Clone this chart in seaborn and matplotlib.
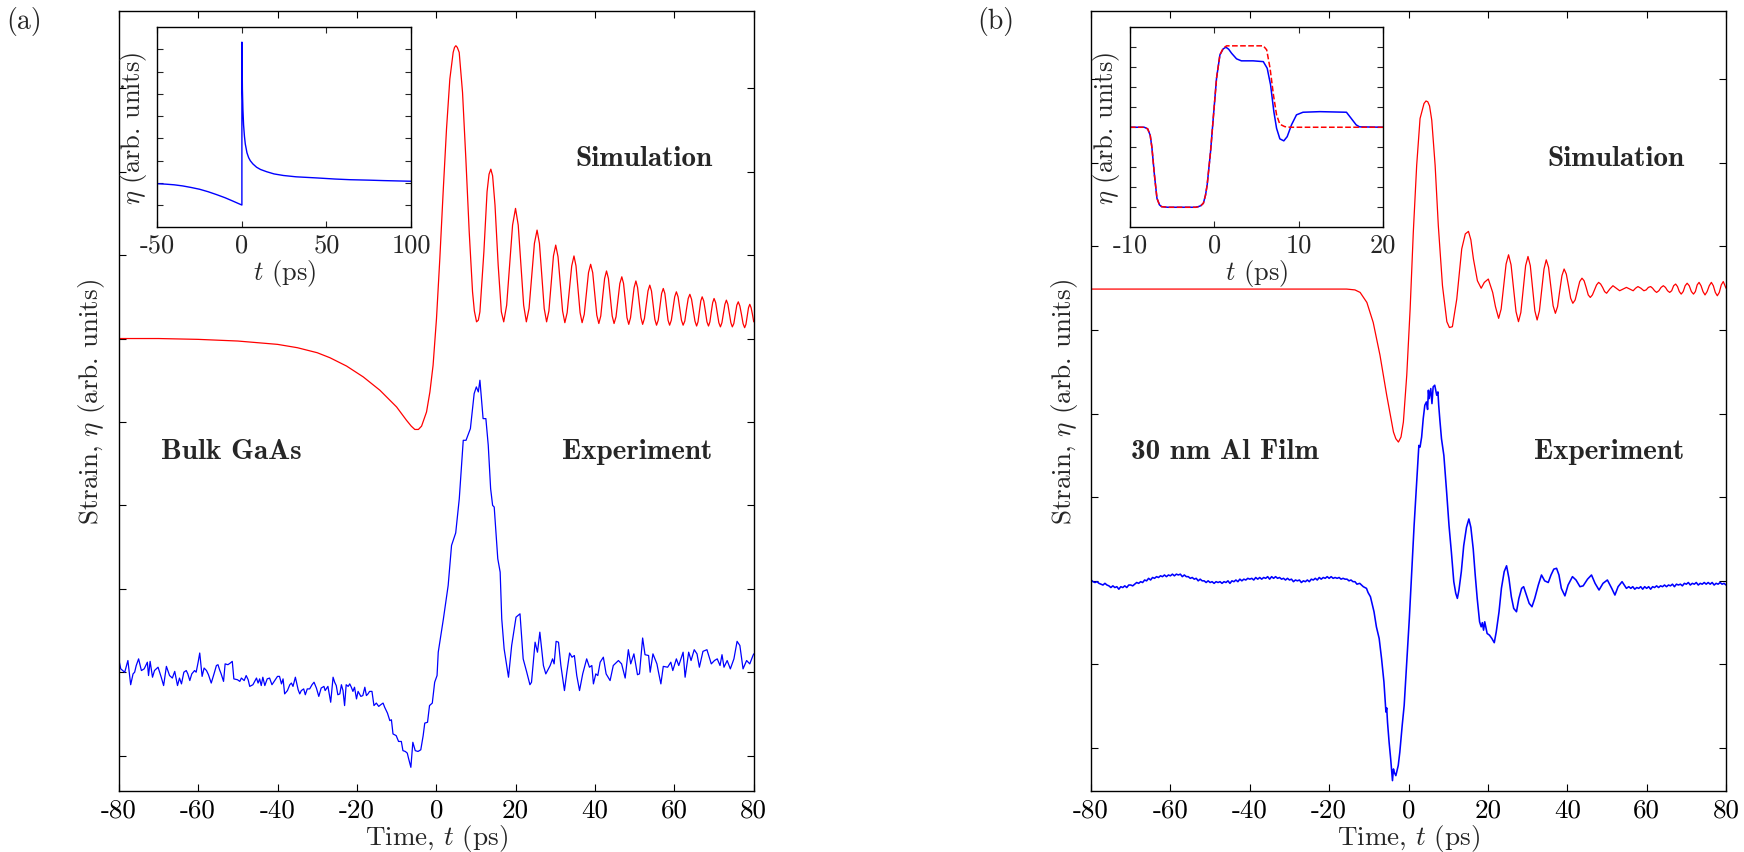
import numpy as np
import pandas as pd
import matplotlib
matplotlib.use("Agg")
import matplotlib.pyplot as plt
import seaborn as sns

# ---------------- data ----------------
x_ticks_main = [-80, -60, -40, -20, 0, 20, 40, 60, 80]
x_tick_labels_main = ["-80", "-60", "-40", "-20", "0", "20", "40", "60", "80"]
inset_a_ticks = [-50, 0, 50, 100]
inset_a_labels = ["-50", "0", "50", "100"]
inset_b_ticks = [-10, 0, 10, 20]
inset_b_labels = ["-10", "0", "10", "20"]

# Panel (a): simulation (red)
sim_a = [(-80, 5.00), (-70, 5.00), (-60, 4.99), (-50, 4.97), (-45, 4.95), (-40, 4.93), (-35, 4.89),
         (-30, 4.83), (-26.8, 4.77), (-22.6, 4.67), (-18.4, 4.54), (-14.2, 4.38), (-10.0, 4.18),
         (-7.5, 4.02), (-6.3, 3.95), (-5.4, 3.91), (-4.5, 3.91), (-3.7, 3.95), (-2.45, 4.12),
         (-1.6, 4.36), (-0.8, 4.68), (0.06, 5.24), (0.9, 5.96), (1.74, 6.76), (2.58, 7.51),
         (3.42, 8.11), (4.26, 8.43), (4.6, 8.49), (4.94, 8.51), (5.3, 8.49), (5.78, 8.43),
         (6.62, 7.95), (7.46, 7.15), (8.3, 6.28), (9.14, 5.56), (9.6, 5.33), (10.15, 5.20),
         (10.6, 5.22), (11.0, 5.32), (12.0, 6.04), (12.8, 6.76), (13.3, 6.97), (13.75, 7.03),
         (14.2, 6.95), (14.8, 6.60), (15.6, 5.88), (16.4, 5.32), (17.0, 5.20),
         (17.74, 5.40), (18.49, 5.88), (19.23, 6.36), (19.97, 6.56),
         (20.65, 6.36), (21.34, 5.88), (22.02, 5.40), (22.7, 5.20),
         (23.38, 5.36), (24.05, 5.75), (24.73, 6.14), (25.4, 6.30),
         (26.0, 6.14), (26.6, 5.75), (27.2, 5.36), (27.8, 5.20),
         (28.38, 5.33), (28.95, 5.66), (29.53, 5.99), (30.1, 6.12),
         (30.68, 5.98), (31.25, 5.66), (31.83, 5.33), (32.4, 5.19),
         (32.98, 5.31), (33.55, 5.59), (34.13, 5.87), (34.7, 5.99),
         (35.21, 5.87), (35.73, 5.59), (36.24, 5.31), (36.75, 5.19),
         (37.29, 5.29), (37.83, 5.54), (38.36, 5.79), (38.9, 5.89),
         (39.42, 5.79), (39.93, 5.54), (40.45, 5.28), (40.96, 5.18),
         (41.45, 5.27), (41.93, 5.50), (42.42, 5.72), (42.9, 5.81),
         (43.38, 5.72), (43.85, 5.50), (44.33, 5.27), (44.8, 5.18),
         (45.29, 5.26), (45.78, 5.46), (46.26, 5.66), (46.75, 5.74),
         (47.19, 5.66), (47.63, 5.46), (48.06, 5.25), (48.5, 5.17),
         (48.95, 5.25), (49.4, 5.43), (49.85, 5.61), (50.3, 5.69),
         (50.73, 5.61), (51.15, 5.43), (51.58, 5.25), (52.0, 5.17),
         (52.45, 5.24), (52.9, 5.41), (53.35, 5.57), (53.8, 5.64),
         (54.23, 5.57), (54.65, 5.40), (55.08, 5.23), (55.5, 5.16),
         (55.93, 5.22), (56.35, 5.38), (56.78, 5.54), (57.2, 5.60),
         (57.6, 5.54), (58.0, 5.38), (58.4, 5.22), (58.8, 5.16),
         (59.23, 5.22), (59.65, 5.36), (60.08, 5.50), (60.5, 5.56),
         (60.93, 5.50), (61.35, 5.36), (61.78, 5.22), (62.2, 5.16),
         (62.63, 5.21), (63.05, 5.35), (63.48, 5.48), (63.9, 5.53),
         (64.33, 5.47), (64.75, 5.34), (65.18, 5.21), (65.6, 5.15),
         (65.95, 5.20), (66.3, 5.33), (66.65, 5.45), (67.0, 5.50),
         (67.4, 5.45), (67.8, 5.33), (68.2, 5.20), (68.6, 5.15),
         (68.95, 5.20), (69.3, 5.32), (69.65, 5.43), (70.0, 5.48),
         (70.4, 5.43), (70.8, 5.31), (71.2, 5.19), (71.6, 5.14),
         (71.98, 5.19), (72.35, 5.30), (72.73, 5.41), (73.1, 5.46),
         (73.48, 5.41), (73.85, 5.30), (74.23, 5.19), (74.6, 5.14),
         (74.98, 5.18), (75.35, 5.29), (75.73, 5.40), (76.1, 5.44),
         (76.5, 5.39), (76.9, 5.29), (77.3, 5.18), (77.7, 5.13),
         (78.03, 5.17), (78.35, 5.27), (78.68, 5.37), (79.0, 5.41),
         (79.33, 5.37), (79.67, 5.29), (80.0, 5.20)]

# Panel (a): experiment (blue)
exp_a = [(-80.2, 1.20), (-79.5, 1.04), (-78.5, 1.00), (-77.7, 1.14), (-77.0, 0.85), (-76.4, 0.98),
         (-76.0, 1.00), (-75.6, 1.08), (-75.0, 1.16), (-74.3, 1.02), (-73.6, 1.04), (-72.8, 1.12),
         (-72.5, 0.96), (-72.1, 1.13), (-71.5, 0.94), (-71.0, 1.02), (-70.1, 1.06), (-69.3, 0.94),
         (-68.7, 0.84), (-68.0, 1.07), (-67.2, 0.96), (-66.5, 0.93), (-65.9, 1.01), (-65.2, 0.84),
         (-64.7, 0.93), (-64.2, 0.86), (-63.6, 1.00), (-63.0, 1.02), (-62.6, 0.98), (-62.1, 0.90),
         (-61.6, 0.98), (-60.9, 1.02), (-60.5, 1.00), (-60.0, 1.12), (-59.6, 1.23), (-59.0, 0.95),
         (-58.5, 1.05), (-57.9, 1.02), (-57.4, 0.97), (-56.7, 0.87), (-56.0, 0.98), (-55.4, 1.08),
         (-55.0, 1.09), (-54.6, 1.03), (-54.2, 0.98), (-53.6, 0.89), (-53.2, 1.10), (-52.5, 1.09),
         (-51.9, 1.11), (-51.4, 1.13), (-51.0, 0.92), (-50.1, 0.91), (-49.5, 0.89), (-49.1, 0.93),
         (-48.4, 0.90), (-47.9, 0.96), (-47.4, 0.91), (-47.0, 0.83), (-46.2, 0.85), (-45.3, 0.93),
         (-44.9, 0.87), (-44.5, 0.92), (-44.1, 0.84), (-43.7, 0.94), (-43.2, 0.84), (-42.6, 0.92),
         (-42.0, 0.93), (-41.4, 0.85), (-40.7, 0.90), (-40.0, 0.95), (-39.5, 0.95), (-39.0, 0.86),
         (-38.6, 0.92), (-38.2, 0.74), (-37.5, 0.78), (-36.9, 0.85), (-36.5, 0.87), (-36.1, 0.83),
         (-35.5, 0.94), (-34.8, 0.79), (-34.4, 0.74), (-34.0, 0.78), (-33.4, 0.80), (-33.0, 0.73),
         (-32.5, 0.80), (-31.9, 0.80), (-31.3, 0.85), (-30.8, 0.88), (-30.2, 0.81), (-29.6, 0.71),
         (-29.0, 0.81), (-28.3, 0.83), (-28.0, 0.78), (-27.3, 0.83), (-26.6, 0.64), (-26.0, 0.94),
         (-25.6, 0.88), (-25.2, 0.84), (-24.8, 0.73), (-24.3, 0.74), (-23.9, 0.85), (-23.5, 0.78),
         (-23.1, 0.60), (-22.7, 0.85), (-22.2, 0.83), (-21.8, 0.86), (-21.4, 0.82), (-21.0, 0.77),
         (-20.6, 0.82), (-20.1, 0.68), (-19.7, 0.77), (-19.0, 0.71), (-18.5, 0.72), (-18.0, 0.82),
         (-17.6, 0.72), (-17.2, 0.74), (-16.8, 0.77), (-16.2, 0.77), (-15.7, 0.60), (-15.1, 0.63),
         (-14.5, 0.59), (-14.0, 0.61), (-13.4, 0.63), (-13.0, 0.58), (-12.3, 0.51), (-11.7, 0.42),
         (-11.3, 0.43), (-10.9, 0.26), (-10.1, 0.24), (-9.5, 0.17), (-8.8, 0.17), (-8.4, 0.06),
         (-7.8, 0.05), (-7.3, 0.03), (-7.0, -0.03), (-6.4, -0.14), (-5.9, 0.16), (-5.3, 0.06),
         (-4.6, 0.05), (-3.9, 0.07), (-3.3, 0.24), (-2.9, 0.39), (-2.2, 0.40), (-1.7, 0.60),
         (-1.0, 0.63), (-0.4, 0.88), (0.2, 0.96), (0.5, 1.24), (1.8, 1.64), (3.0, 2.04),
         (3.85, 2.52), (4.9, 2.67), (5.8, 3.08), (6.8, 3.78), (7.5, 3.78), (8.6, 3.92),
         (9.55, 4.34), (10.1, 4.42), (10.6, 4.36), (11.0, 4.50), (11.8, 4.04), (12.5, 4.04),
         (13.1, 3.72), (13.7, 3.20), (14.2, 3.00), (14.6, 2.98), (15.5, 2.36), (16.1, 2.20),
         (16.5, 1.64), (17.1, 1.28), (18.2, 0.94), (19.0, 1.32), (20.1, 1.66), (21.1, 1.70),
         (21.9, 1.16), (22.8, 1.00), (23.6, 0.85), (24.0, 0.88), (24.9, 1.36), (25.5, 1.24),
         (26.1, 1.48), (27.0, 1.08), (27.6, 0.98), (28.7, 1.08), (29.3, 1.16), (29.7, 1.10),
         (30.2, 1.37), (30.8, 1.36), (31.4, 1.08), (32.3, 0.78), (32.9, 1.00), (33.6, 1.23),
         (34.2, 1.18), (34.8, 1.20), (35.4, 0.96), (36.1, 0.78), (36.9, 0.98), (37.9, 1.16),
         (38.6, 1.06), (39.2, 1.08), (39.6, 0.86), (40.2, 0.98), (40.7, 0.96), (41.3, 1.12),
         (42.1, 1.18), (42.8, 0.98), (43.8, 0.90), (44.6, 1.08), (45.9, 1.14), (46.7, 1.10),
         (47.6, 0.93), (48.4, 1.27), (49.0, 1.10), (49.8, 1.22), (50.7, 0.97), (51.2, 0.98),
         (52.0, 1.41), (52.6, 1.21), (53.5, 1.20), (53.9, 1.00), (54.6, 1.22), (55.6, 1.10),
         (56.0, 1.00), (56.6, 0.86), (57.2, 1.07), (58.3, 1.06), (59.1, 1.12), (59.6, 1.02),
         (60.5, 1.16), (61.1, 1.08), (62.2, 1.24), (62.7, 0.94), (63.6, 1.24), (64.2, 1.14),
         (65.0, 1.27), (65.7, 1.22), (66.3, 1.06), (67.2, 1.25), (68.2, 1.27), (69.3, 1.10),
         (70.1, 1.14), (70.8, 1.16), (71.5, 1.08), (72.0, 1.21), (72.5, 1.06), (73.3, 1.14),
         (74.1, 1.04), (75.0, 1.16), (75.8, 1.37), (76.5, 1.32), (77.3, 1.04), (78.2, 1.14),
         (79.0, 1.10), (79.8, 1.20), (80.0, 1.22)]

# Panel (b): simulation (red)
sim_b = [(-80, 5.49), (-40, 5.49), (-20, 5.49), (-15.6, 5.49), (-13.5, 5.48), (-12.2, 5.45),
         (-10.5, 5.33), (-8.9, 5.09), (-7.2, 4.70), (-5.5, 4.22), (-3.8, 3.78), (-3.2, 3.70),
         (-2.55, 3.66), (-1.9, 3.72), (-1.3, 3.90), (-0.45, 4.46), (0.4, 5.25), (1.2, 6.17),
         (2.05, 6.97), (2.9, 7.53), (3.9, 7.71), (4.4, 7.74), (4.85, 7.73), (5.3, 7.68),
         (5.85, 7.51), (6.7, 6.97), (7.5, 6.25), (8.55, 5.53), (9.65, 5.10), (10.3, 5.03),
         (11.05, 5.04), (12.15, 5.37), (13.4, 5.97), (14.3, 6.15), (15.1, 6.18), (15.7, 6.08),
         (16.35, 5.85), (17.35, 5.59), (18.3, 5.50), (19.1, 5.57), (20.1, 5.61), (21.2, 5.45),
         (21.9, 5.28), (22.7, 5.14),
         (23.33, 5.25), (23.95, 5.52), (24.58, 5.79), (25.2, 5.90),
         (25.83, 5.78), (26.45, 5.50), (27.08, 5.22), (27.7, 5.10),
         (28.3, 5.21), (28.9, 5.49), (29.5, 5.77), (30.1, 5.88),
         (30.68, 5.77), (31.25, 5.50), (31.83, 5.23), (32.4, 5.12),
         (32.98, 5.23), (33.55, 5.48), (34.13, 5.73), (34.7, 5.84),
         (35.28, 5.75), (35.85, 5.52), (36.43, 5.29), (37.0, 5.20),
         (37.55, 5.28), (38.1, 5.47), (38.65, 5.65), (39.2, 5.73),
         (39.75, 5.67), (40.3, 5.53), (40.85, 5.38), (41.4, 5.32),
         (41.98, 5.36), (42.55, 5.47), (43.13, 5.58), (43.7, 5.62),
         (44.23, 5.59), (44.75, 5.51), (45.28, 5.42), (45.8, 5.39),
         (46.33, 5.42), (46.85, 5.48), (47.38, 5.54), (47.9, 5.57),
         (48.4, 5.55), (48.9, 5.51), (49.4, 5.46), (49.9, 5.44),
         (50.7, 5.49), (51.5, 5.53), (52.35, 5.50), (53.2, 5.47), (54.05, 5.49), (54.9, 5.51),
         (55.75, 5.49), (56.6, 5.47), (57.2, 5.50), (57.8, 5.52), (58.55, 5.50),
         (59.3, 5.47), (59.87, 5.48), (60.43, 5.51), (61.0, 5.52), (61.5, 5.50), (62.0, 5.47),
         (62.5, 5.45), (63.07, 5.47), (63.63, 5.51), (64.2, 5.53), (64.73, 5.51), (65.27, 5.47),
         (65.8, 5.45), (66.3, 5.47), (66.8, 5.53), (67.3, 5.55), (67.77, 5.52), (68.23, 5.46),
         (68.7, 5.43), (69.2, 5.46), (69.7, 5.53), (70.2, 5.56), (70.73, 5.53), (71.27, 5.46),
         (71.8, 5.43), (72.27, 5.46), (72.73, 5.54), (73.2, 5.57), (73.7, 5.53), (74.2, 5.46),
         (74.7, 5.42), (75.23, 5.46), (75.77, 5.53), (76.3, 5.57), (76.8, 5.53), (77.3, 5.45),
         (77.8, 5.41), (78.3, 5.45), (78.8, 5.54), (79.3, 5.58), (80.0, 5.50)]

# Panel (b): experiment (blue)
exp_b = [(-80, 2.01), (-79.5, 1.99), (-79, 1.98), (-78.5, 1.99), (-78, 1.97), (-77.5, 1.96),
         (-77, 1.95), (-76.5, 1.97), (-76, 1.95), (-75.5, 1.94), (-75, 1.92), (-74.5, 1.94),
         (-74, 1.92), (-73.5, 1.93), (-73, 1.90), (-72.5, 1.93), (-72, 1.92), (-71.5, 1.94),
         (-71, 1.92), (-70.5, 1.95), (-70, 1.95), (-69.5, 1.94), (-69, 1.96), (-68.5, 1.98),
         (-68, 1.97), (-67.5, 1.99), (-67, 1.98), (-66.5, 2.01), (-66, 2.00), (-65.5, 2.03),
         (-65, 2.01), (-64.5, 2.04), (-64, 2.03), (-63.5, 2.05), (-63, 2.04), (-62.5, 2.06),
         (-62, 2.05), (-61.5, 2.07), (-61, 2.05), (-60.5, 2.07), (-60, 2.06), (-59.5, 2.08),
         (-59, 2.06), (-58.5, 2.08), (-58, 2.07), (-57.5, 2.08), (-57, 2.05), (-56.5, 2.07),
         (-56, 2.05), (-55.5, 2.05), (-55, 2.03), (-54.5, 2.04), (-54, 2.02), (-53.5, 2.03),
         (-53, 2.00), (-52.5, 2.02), (-52, 2.00), (-51.5, 2.00), (-51, 1.98), (-50.5, 2.00),
         (-50, 1.98), (-49.5, 1.99), (-49, 1.97), (-48.5, 1.99), (-48, 1.98), (-47.5, 1.99),
         (-47, 1.97), (-46.5, 1.99), (-46, 1.98), (-45.5, 2.00), (-45, 1.97), (-44.5, 2.00),
         (-44, 1.99), (-43.5, 2.01), (-43, 1.99), (-42.5, 2.02), (-42, 2.00), (-41.5, 2.02),
         (-41, 2.01), (-40.5, 2.03), (-40, 2.02), (-39.5, 2.03), (-39, 2.01), (-38.5, 2.04),
         (-38, 2.02), (-37.5, 2.04), (-37, 2.02), (-36.5, 2.04), (-36, 2.03), (-35.5, 2.05),
         (-35, 2.02), (-34.5, 2.05), (-34, 2.03), (-33.5, 2.05), (-33, 2.03), (-32.5, 2.04),
         (-32, 2.02), (-31.5, 2.03), (-31, 2.01), (-30.5, 2.03), (-30, 2.01), (-29.5, 2.02),
         (-29, 1.99), (-28.5, 2.01), (-28, 2.00), (-27.5, 2.01), (-27, 1.98), (-26.5, 2.00),
         (-26, 1.99), (-25.5, 2.01), (-25, 1.99), (-24.5, 2.02), (-24, 2.01), (-23.5, 2.03),
         (-23, 2.01), (-22.5, 2.04), (-22, 2.02), (-21.5, 2.04), (-21, 2.03), (-20.5, 2.05),
         (-20, 2.03), (-19.5, 2.05), (-19, 2.03), (-18.5, 2.04), (-18, 2.03), (-17.5, 2.04),
         (-17, 2.02), (-16.5, 2.03), (-16, 2.02), (-15.5, 2.02), (-15, 2.00), (-14.5, 2.01),
         (-14, 1.99), (-13.5, 1.99), (-13, 1.96), (-12.3, 1.97),
         (-11.4, 1.93), (-10.6, 1.91), (-10.2, 1.86), (-9.6, 1.81), (-9.3, 1.75), (-8.7, 1.63),
         (-8.1, 1.45), (-7.4, 1.31), (-6.8, 1.07), (-6.2, 0.79), (-5.7, 0.43), (-5.5, 0.48),
         (-5.3, 0.31), (-4.9, 0.07), (-4.5, -0.13), (-4.05, -0.39), (-3.8, -0.25), (-3.6, -0.29),
         (-3.2, -0.33), (-2.6, -0.21), (-2.2, -0.05), (-1.6, 0.27), (-1.1, 0.51), (-0.5, 0.99),
         (0.2, 1.55), (0.8, 2.11), (1.4, 2.66), (2.0, 3.14), (2.6, 3.62), (2.9, 3.60), (3.3, 3.72),
         (3.7, 3.94), (4.1, 4.10), (4.5, 4.14), (4.8, 4.05), (5.0, 4.28), (5.2, 4.18), (5.6, 4.30),
         (5.9, 4.12), (6.2, 4.32), (6.6, 4.34), (7.1, 4.22), (7.4, 4.26), (7.6, 4.10), (7.9, 3.92),
         (8.3, 3.70), (8.9, 3.50), (9.6, 3.06), (10.2, 2.66), (10.8, 2.34), (11.4, 1.99),
         (11.9, 1.85), (12.3, 1.79), (12.7, 1.89), (13.3, 2.11), (13.9, 2.42), (14.6, 2.64),
         (15.2, 2.74), (15.7, 2.64), (16.3, 2.38), (16.8, 2.07), (17.3, 1.79), (17.9, 1.51),
         (18.3, 1.45), (18.6, 1.50), (18.9, 1.41), (19.2, 1.51), (19.8, 1.37), (20.4, 1.35),
         (21.0, 1.31), (21.6, 1.26), (22.1, 1.39), (22.8, 1.63), (23.4, 1.91), (24.1, 2.11),
         (24.7, 2.18), (25.3, 2.03), (25.9, 1.81), (26.5, 1.67), (27.2, 1.63), (27.8, 1.79),
         (28.5, 1.91), (29.0, 1.93), (29.7, 1.83), (30.4, 1.73), (31.1, 1.69), (31.8, 1.79),
         (32.7, 1.95), (33.5, 2.07), (34.3, 2.00), (35.2, 1.98), (35.9, 2.07), (36.6, 2.14),
         (37.3, 2.15), (37.9, 2.07), (38.5, 1.91), (39.4, 1.82), (40.2, 1.95), (41.3, 2.05),
         (42.2, 2.01), (43.2, 1.93), (44.0, 1.94), (45.1, 2.02), (46.1, 2.07), (47.0, 1.97),
         (48.0, 1.89), (49.0, 1.97), (50.1, 2.01), (51.2, 1.91), (52.0, 1.83), (52.8, 1.93),
         (53.8, 1.99), (54.9, 1.91), (55.5, 1.93), (56, 1.91), (56.5, 1.93), (57, 1.90),
         (57.5, 1.92), (58, 1.91), (58.5, 1.93), (59, 1.90), (59.5, 1.93), (60, 1.91),
         (60.5, 1.93), (61, 1.90), (61.5, 1.93), (62, 1.92), (62.5, 1.94), (63, 1.92),
         (63.5, 1.94), (64, 1.93), (64.5, 1.95), (65, 1.93), (65.5, 1.95), (66, 1.94),
         (66.5, 1.96), (67, 1.93), (67.5, 1.96), (68, 1.95), (68.5, 1.96), (69, 1.94),
         (69.5, 1.97), (70, 1.96), (70.5, 1.98), (71, 1.95), (71.5, 1.97), (72, 1.96),
         (72.5, 1.98), (73, 1.95), (73.5, 1.97), (74, 1.96), (74.5, 1.98), (75, 1.96),
         (75.5, 1.98), (76, 1.96), (76.5, 1.98), (77, 1.95), (77.5, 1.97), (78, 1.96),
         (78.5, 1.98), (79, 1.96), (79.5, 1.97), (80, 1.95)]

# Inset (a): source profile (blue)
inset_a = [(-50, 0.96), (-45, 0.94), (-40, 0.91), (-35, 0.86), (-30, 0.79), (-25, 0.71),
           (-20, 0.60), (-15, 0.47), (-10, 0.33), (-6, 0.20), (-3, 0.10), (0.0, 0.0),
           (0.01, 7.33), (0.3, 5.2), (0.6, 4.3), (1.0, 3.6), (1.5, 3.1), (2.0, 2.75),
           (3.0, 2.35), (4.0, 2.13), (5.0, 1.99), (6.5, 1.85), (8.7, 1.70), (11, 1.60),
           (14.6, 1.50), (19, 1.40), (24.5, 1.33), (32, 1.27), (44.2, 1.22), (55, 1.17),
           (63.9, 1.14), (75, 1.12), (83.6, 1.10), (100, 1.07)]

# Inset (b): blue solid and red dashed
inset_b_blue = [(-10, 4.0), (-8.3, 4.0), (-7.9, 3.92), (-7.6, 3.6), (-7.4, 3.0), (-7.1, 1.62),
                (-6.8, 0.45), (-6.5, 0.12), (-6.25, 0.03), (-5.5, 0.0), (-2.2, 0.0), (-1.9, 0.03),
                (-1.6, 0.08), (-1.3, 0.2), (-1.05, 0.6), (-0.85, 1.12), (-0.45, 2.78),
                (-0.13, 4.45), (0.26, 6.45), (0.66, 7.62), (1.05, 7.92), (1.37, 8.0), (1.7, 7.9),
                (2.04, 7.7), (2.63, 7.42), (3.2, 7.32), (4.6, 7.32), (5.8, 7.28), (6.26, 6.95),
                (6.66, 6.12), (7.05, 4.78), (7.37, 3.95), (7.76, 3.42), (8.23, 3.32), (8.63, 3.53),
                (9.14, 4.12), (9.73, 4.62), (10.5, 4.75), (12.5, 4.78), (15.65, 4.75), (16.2, 4.45),
                (16.8, 4.12), (17.2, 4.02), (20, 4.0)]
inset_b_red = [(-10, 4.0), (-8.3, 4.0), (-7.9, 3.92), (-7.6, 3.6), (-7.4, 3.0), (-7.1, 1.62),
               (-6.8, 0.45), (-6.5, 0.12), (-6.25, 0.03), (-5.5, 0.0), (-2.2, 0.0), (-1.9, 0.03),
               (-1.6, 0.08), (-1.3, 0.2), (-1.05, 0.6), (-0.85, 1.12), (-0.45, 2.78),
               (-0.13, 4.45), (0.26, 6.45), (0.66, 7.62), (1.05, 7.95), (1.45, 8.07), (5.8, 8.07),
               (6.2, 7.87), (6.6, 6.95), (7.0, 5.62), (7.37, 4.62), (7.76, 4.15), (8.35, 4.03),
               (9.0, 4.0), (20, 4.0)]

# ---------------- style ----------------
sns.set_style("ticks")
plt.rcParams["font.family"] = ["cmr10", "DejaVu Serif"]
plt.rcParams["mathtext.fontset"] = "cm"
plt.rcParams["axes.unicode_minus"] = False
plt.rcParams["axes.formatter.use_mathtext"] = True

RED = "#ff0000"
BLUE = "#0000ff"

fig = plt.figure(figsize=(17.44, 8.53), dpi=100)


def to_df(pairs):
    return pd.DataFrame(pairs, columns=["t", "v"])


def draw(ax, pairs, color, ls="-", lw=0.9):
    sns.lineplot(data=to_df(pairs), x="t", y="v", ax=ax, color=color, linewidth=lw,
                 linestyle=ls, estimator=None, sort=False, errorbar=None)


def style_main(ax, ylim):
    ax.set_xlim(-80, 80)
    ax.set_ylim(*ylim)
    ax.set_xticks(x_ticks_main)
    ax.set_xticklabels(x_tick_labels_main, fontsize=19.5)
    ax.set_yticks(range(0, 9))
    ax.set_yticklabels([])
    ax.tick_params(direction="in", top=True, right=True, length=5, width=0.8, pad=5,
                   colors="black")
    for s in ax.spines.values():
        s.set_linewidth(1.0)
        s.set_color("black")
        s.set_visible(True)
    ax.set_xlabel("Time, $t$ (ps)", fontsize=19.5)
    ax.set_ylabel(r"Strain, $\eta$ (arb. units)", fontsize=19.5)
    ax.xaxis.set_label_coords(0.5, -0.040)
    ax.yaxis.set_label_coords(-0.018, 0.5)


def style_inset(ax, xlim, ylim, ticks, labels, nyt):
    ax.set_xlim(*xlim)
    ax.set_ylim(*ylim)
    ax.set_xticks(ticks)
    ax.set_xticklabels(labels, fontsize=19)
    ax.set_yticks(range(0, nyt))
    ax.set_yticklabels([])
    ax.tick_params(direction="in", top=True, right=True, length=4, width=0.8, pad=4)
    for s in ax.spines.values():
        s.set_linewidth(1.0)
        s.set_color("black")
        s.set_visible(True)
    ax.set_xlabel("$t$ (ps)", fontsize=19, labelpad=0)
    ax.set_ylabel(r"$\eta$ (arb. units)", fontsize=19, labelpad=2)


bold = dict(fontsize=21, fontfamily="cmb10", ha="center", va="center")

# ---- Panel (a)
axa = fig.add_axes([0.0681, 0.0719, 0.3641, 0.9144])
draw(axa, sim_a, RED)
draw(axa, exp_a, BLUE)
style_main(axa, (-0.42, 8.93))
axa.text(0.827, 0.811, "Simulation", transform=axa.transAxes, **bold)
axa.text(0.816, 0.4355, "Experiment", transform=axa.transAxes, **bold)
axa.text(0.1767, 0.4355, "Bulk GaAs", transform=axa.transAxes, **bold)

insa = fig.add_axes([0.0902, 0.7324, 0.1455, 0.2345])
draw(insa, inset_a, BLUE, lw=1.0)
style_inset(insa, (-50, 100), (-1, 8), inset_a_ticks, inset_a_labels, 8)

# ---- Panel (b)
axb = fig.add_axes([0.6256, 0.0719, 0.3641, 0.9144])
draw(axb, sim_b, RED)
draw(axb, exp_b, BLUE, lw=1.15)
style_main(axb, (-0.51, 8.82))
axb.text(0.827, 0.811, "Simulation", transform=axb.transAxes, **bold)
axb.text(0.816, 0.4355, "Experiment", transform=axb.transAxes, **bold)
axb.text(0.211, 0.4355, "30 nm Al Film", transform=axb.transAxes, **bold)

insb = fig.add_axes([0.6479, 0.7324, 0.1452, 0.2345])
draw(insb, inset_b_blue, BLUE, lw=1.1)
draw(insb, inset_b_red, RED, ls="--", lw=1.1)
style_inset(insb, (-10, 20), (-1, 9), inset_b_ticks, inset_b_labels, 9)

fig.text(0.0138, 0.975, "(a)", fontsize=20, ha="center", va="center")
fig.text(0.571, 0.975, "(b)", fontsize=20, ha="center", va="center")

fig.savefig("out.png", dpi=100)
